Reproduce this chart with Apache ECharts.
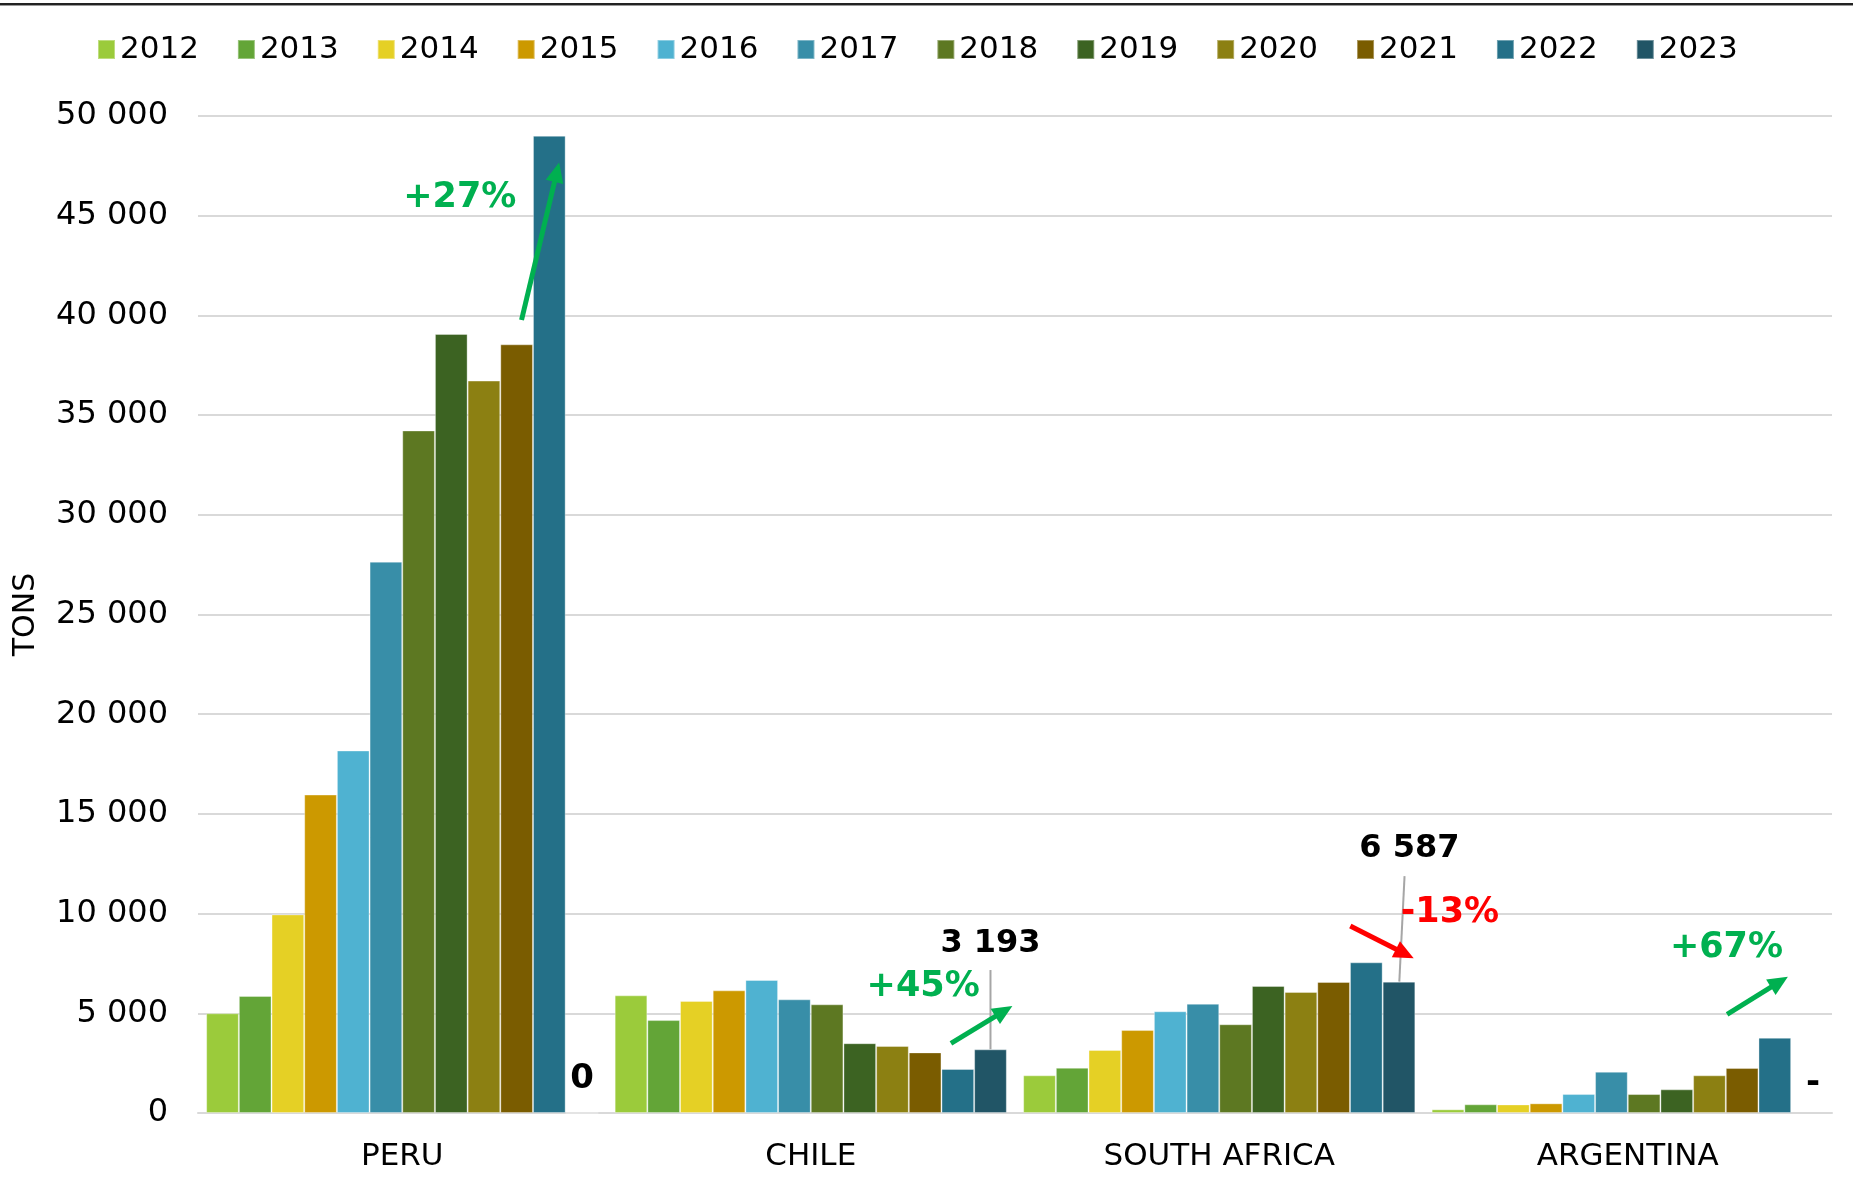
<!DOCTYPE html>
<html>
<head>
<meta charset="utf-8">
<script src="https://cdn.jsdelivr.net/npm/echarts@6/dist/echarts.min.js"></script>
<style>
html, body { margin: 0; padding: 0; background: #fff; }
#main { width: 1853px; height: 1184px; }
</style>
</head>
<body>
<div id="main"></div>
<script>
// categories
const countries = ['PERU', 'CHILE', 'SOUTH AFRICA', 'ARGENTINA'];
const years = ['2012', '2013', '2014', '2015', '2016', '2017', '2018', '2019', '2020', '2021', '2022', '2023'];
const yearColors = ['#9BCB3B', '#63A537', '#E5D025', '#CC9900', '#4FB2D1', '#388EA8',
                    '#5D7822', '#3C6322', '#8C8012', '#7A5C00', '#247088', '#215566'];

// tons, in the order PERU, CHILE, SOUTH AFRICA, ARGENTINA
const v2012 = [5000, 5900, 1890, 185];
const v2013 = [5870, 4660, 2270, 435];
const v2014 = [9960, 5620, 3160, 430];
const v2015 = [15970, 6150, 4160, 485];
const v2016 = [18180, 6670, 5100, 950];
const v2017 = [27650, 5700, 5480, 2070];
const v2018 = [34230, 5450, 4450, 950];
const v2019 = [39070, 3500, 6370, 1185];
const v2020 = [36730, 3360, 6070, 1890];
const v2021 = [38550, 3040, 6570, 2255];
const v2022 = [49010, 2207, 7557, 3775];
const v2023 = [0, 3193, 6587, null];
const yearValues = [v2012, v2013, v2014, v2015, v2016, v2017, v2018, v2019, v2020, v2021, v2022, v2023];

// value axis
const yMin = 0;
const yMax = 50000;
const yStep = 5000;

// annotation texts: [text, colour, category, bar slot, value, font size]
const GREEN = '#00B050';
const RED = '#FF0000';
const notes = [
  ['+27%', GREEN, 0, 7.76, 45900, 35],
  ['0', '#000', 0, 11.5, 1700, 34],
  ['3 193', '#000', 1, 11.5, 8480, 32],
  ['+45%', GREEN, 1, 9.44, 6320, 35],
  ['6 587', '#000', 2, 11.82, 13240, 32],
  ['-13%', RED, 2, 13.06, 10050, 35],
  ['+67%', GREEN, 3, 9.02, 8280, 35],
  ['-', '#000', 3, 11.67, 1500, 34]
];
// arrows: [colour, category, from slot, from value, to slot, to value]
const arrows = [
  [GREEN, 0, 9.65, 39770, 10.80, 47670],
  [GREEN, 1, 10.29, 3495, 12.17, 5370],
  [RED, 2, 10.01, 9380, 11.95, 7760],
  [GREEN, 3, 9.04, 4950, 10.90, 6835]
];
// leader lines from the value labels to the bars
const leaders = [
  [1, 11.5, 7170, 11.5, 3193],
  [2, 11.67, 11880, 11.51, 6587]
];

const catGap = 0.04;
const chart = echarts.init(document.getElementById('main'));

const fmt = v => String(v).replace(/\B(?=(\d{3})+(?!\d))/g, ' ');

const option = {
  animation: false,
  color: yearColors,
  textStyle: { fontFamily: 'DejaVu Sans' },
  legend: {
    left: 92,
    top: 29,
    icon: 'rect',
    itemWidth: 17,
    itemHeight: 19,
    itemGap: 38,
    textStyle: { fontSize: 31, color: '#000' },
    data: years
  },
  grid: { left: 198, right: 21, top: 116, bottom: 71, containLabel: false, outerBoundsMode: 'none' },
  xAxis: {
    type: 'category',
    data: countries,
    axisTick: { show: false },
    axisLine: { lineStyle: { color: '#D9D9D9', width: 2 } },
    axisLabel: { fontSize: 31, color: '#000', margin: 28 }
  },
  yAxis: {
    type: 'value',
    min: yMin,
    max: yMax,
    interval: yStep,
    name: 'TONS',
    nameLocation: 'middle',
    nameGap: 157,
    nameTextStyle: { fontSize: 30, color: '#000' },
    axisLine: { show: false },
    axisTick: { show: false },
    splitLine: { lineStyle: { color: '#D9D9D9', width: 2 } },
    axisLabel: { fontSize: 32, color: '#000', margin: 30, formatter: fmt }
  },
  series: years.map((y, i) => ({
    name: y,
    type: 'bar',
    barGap: 0,
    barCategoryGap: '4%',
    itemStyle: { borderColor: 'rgba(255,255,255,0.35)', borderWidth: 1 },
    data: yearValues[i]
  }))
};

chart.setOption(option);

// pixel position of a point given in bar slots (0 = left edge of the 2012 bar) and value
function px(cat, slot, value) {
  const c0 = chart.convertToPixel({ xAxisIndex: 0 }, 0);
  const c1 = chart.convertToPixel({ xAxisIndex: 0 }, 1);
  const bw = (c1 - c0) * (1 - catGap) / years.length;
  const start = chart.convertToPixel({ xAxisIndex: 0 }, cat) - bw * years.length / 2;
  return [start + slot * bw, chart.convertToPixel({ yAxisIndex: 0 }, value)];
}

function arrow(p1, p2, color) {
  const dx = p2[0] - p1[0], dy = p2[1] - p1[1];
  const len = Math.hypot(dx, dy);
  const ux = dx / len, uy = dy / len;
  const hl = 20, hw = 9;
  const bx = p2[0] - ux * hl, by = p2[1] - uy * hl;
  return [
    { type: 'line', z: 10, shape: { x1: p1[0], y1: p1[1], x2: bx + ux * 2, y2: by + uy * 2 },
      style: { stroke: color, lineWidth: 5 } },
    { type: 'polygon', z: 10, shape: { points: [p2, [bx - uy * hw, by + ux * hw], [bx + uy * hw, by - ux * hw]] },
      style: { fill: color } }
  ];
}

const graphic = [
  { type: 'rect', shape: { x: 0, y: 3, width: 1853, height: 2 }, style: { fill: '#222' } },
  { type: 'rect', shape: { x: 0, y: 5, width: 1853, height: 1 }, style: { fill: '#999' } }
];
leaders.forEach(l => {
  const a = px(l[0], l[1], l[2]), b = px(l[0], l[3], l[4]);
  graphic.push({ type: 'line', z: 10, shape: { x1: a[0], y1: a[1], x2: b[0], y2: b[1] },
    style: { stroke: '#A6A6A6', lineWidth: 2 } });
});
arrows.forEach(a => {
  graphic.push(...arrow(px(a[1], a[2], a[3]), px(a[1], a[4], a[5]), a[0]));
});
notes.forEach(n => {
  const p = px(n[2], n[3], n[4]);
  graphic.push({
    type: 'text', x: p[0], y: p[1], z: 11,
    style: {
      text: n[0], fill: n[1], align: 'center', verticalAlign: 'middle',
      font: 'bold ' + n[5] + 'px "DejaVu Sans"'
    }
  });
});
chart.setOption({ graphic: graphic });
</script>
</body>
</html>
